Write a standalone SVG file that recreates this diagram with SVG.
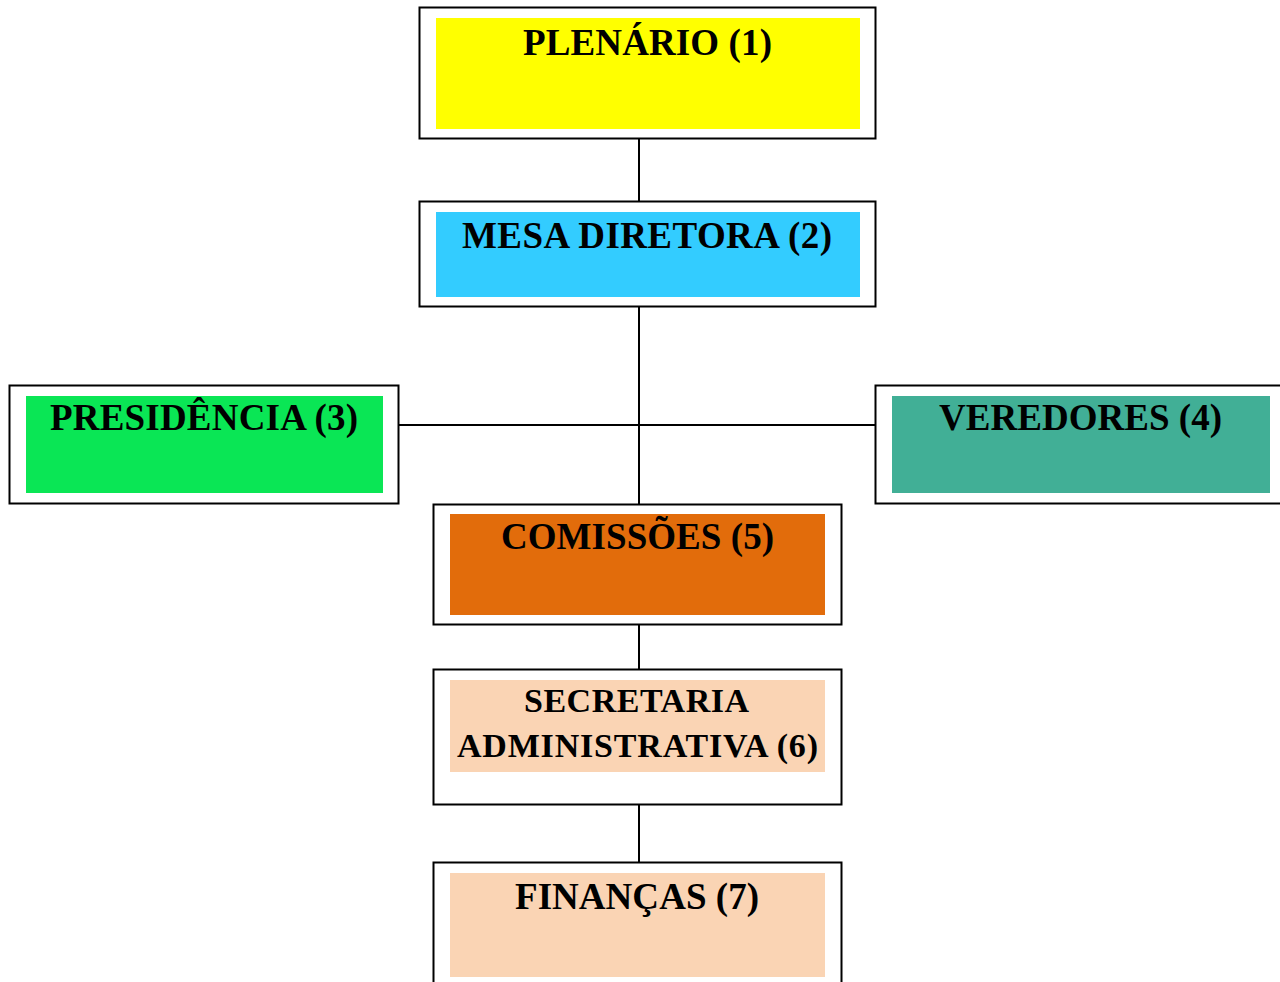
<svg xmlns="http://www.w3.org/2000/svg" width="1280" height="982" viewBox="0 0 1280 982">
<style>
.outer{fill:#ffffff;stroke:#000000;stroke-width:2}
.lbl{font-family:"Liberation Serif","Times New Roman",serif;font-weight:bold;fill:#000000;text-anchor:middle}
.big{font-size:37px}
.mid{font-size:34px}
.conn{stroke:#000000;stroke-width:2;fill:none}
</style>
<rect x="0" y="0" width="1280" height="982" fill="#ffffff"/>
<g id="connectors">
<line class="conn" x1="639" y1="139" x2="639" y2="201"/>
<line class="conn" x1="639" y1="307" x2="639" y2="504"/>
<line class="conn" x1="399" y1="425" x2="875" y2="425"/>
<line class="conn" x1="639" y1="625" x2="639" y2="669"/>
<line class="conn" x1="639" y1="805" x2="639" y2="862"/>
</g>
<g id="plenario">
<rect class="outer" x="419.500" y="7.500" width="456" height="131"/>
<rect x="436" y="18" width="424" height="111" fill="#ffff00"/>
<text class="lbl big" x="647.500" y="55" textLength="249" lengthAdjust="spacing">PLENÁRIO (1)</text>
</g>
<g id="mesa">
<rect class="outer" x="419.500" y="201.500" width="456" height="105"/>
<rect x="436" y="212" width="424" height="85" fill="#33ccff"/>
<text class="lbl big" x="647" y="248" textLength="370" lengthAdjust="spacing">MESA DIRETORA (2)</text>
</g>
<g id="presidencia">
<rect class="outer" x="9.500" y="385.500" width="389" height="118"/>
<rect x="26" y="396" width="357" height="97" fill="#0ae655"/>
<text class="lbl big" x="204" y="430" textLength="308" lengthAdjust="spacing">PRESIDÊNCIA (3)</text>
</g>
<g id="veredores">
<rect class="outer" x="875.500" y="385.500" width="410" height="118"/>
<rect x="892" y="396" width="378" height="97" fill="#41af96"/>
<text class="lbl big" x="1080.500" y="430" textLength="283" lengthAdjust="spacing">VEREDORES (4)</text>
</g>
<g id="comissoes">
<rect class="outer" x="433.500" y="504.500" width="408" height="120"/>
<rect x="450" y="514" width="375" height="101" fill="#e26c0b"/>
<text class="lbl big" x="637.500" y="549" textLength="273" lengthAdjust="spacing">COMISSÕES (5)</text>
</g>
<g id="secretaria">
<rect class="outer" x="433.500" y="669.500" width="408" height="135"/>
<rect x="450" y="680" width="375" height="92" fill="#fad4b4"/>
<text class="lbl mid" x="636.500" y="712" textLength="225" lengthAdjust="spacing">SECRETARIA</text>
<text class="lbl mid" x="637.500" y="757" textLength="361" lengthAdjust="spacing">ADMINISTRATIVA (6)</text>
</g>
<g id="financas">
<rect class="outer" x="433.500" y="862.500" width="408" height="130"/>
<rect x="450" y="873" width="375" height="104" fill="#fad4b4"/>
<text class="lbl big" x="637" y="909" textLength="244" lengthAdjust="spacing">FINANÇAS (7)</text>
</g>
</svg>
